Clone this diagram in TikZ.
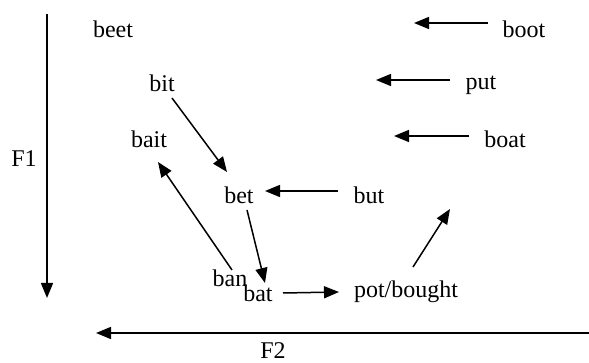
\documentclass[tikz,border=0pt]{standalone}
\usepackage{fontspec}
\setmainfont{Liberation Serif}
\usetikzlibrary{arrows.meta}
\begin{document}
\begin{tikzpicture}[x=1pt,y=-1pt,
  lbl/.style={inner sep=0pt,font=\fontsize{24}{27}\selectfont},
  arr/.style={line width=1.5pt,-{Triangle[length=15pt,width=12pt]}}]
\useasboundingbox (0,0) rectangle (589,363);
% labels
\node[lbl] (beet) at (113,29) {beet};
\node[lbl] (bit) at (162,83) {bit};
\node[lbl] (bait) at (149,139) {bait};
\node[lbl] (bet) at (239,195) {bet};
\node[lbl] (but) at (369,195) {but};
\node[lbl] (ban) at (230,278) {ban};
\node[lbl] (bat) at (258,293) {bat};
\node[lbl] (pot) at (406,292) {pot/bought};
\node[lbl] (boot) at (524,29) {boot};
\node[lbl] (put) at (481,85) {put};
\node[lbl] (boat) at (505,139) {boat};
\node[lbl] (F1) at (24,159) {F1};
\node[lbl] (F2) at (273,351) {F2};
% axis ends
\coordinate (f1top) at (47,14);
\coordinate (f1bot) at (47,298);
\coordinate (f2right) at (589,333);
\coordinate (f2left) at (96,333);
\draw[arr] (f1top) -- (f1bot);
\draw[arr] (f2right) -- (f2left);
% free-end arrows
\coordinate (bootTip) at (414,23);
\coordinate (putTip) at (376,80);
\coordinate (boatTip) at (394,136);
\coordinate (potTip) at (450,209);
\draw[arr] ([shift={(-36,-6)}]boot.center) -- (bootTip);
\draw[arr] ([shift={(-31,-5)}]put.center) -- (putTip);
\draw[arr] ([shift={(-36,-3)}]boat.center) -- (boatTip);
\draw[arr] ([shift={(7,-25)}]pot.center) -- (potTip);
% node-to-node arrows
\draw[arr] ([shift={(-31,-4)}]but.center) -- ([shift={(26,-4)}]bet.center);
\draw[arr] ([shift={(10,15)}]bit.center) -- ([shift={(-12,-23)}]bet.center);
\draw[arr] ([shift={(2,-8)}]ban.center) -- ([shift={(9,23)}]bait.center);
\draw[arr] ([shift={(8,15)}]bet.center) -- ([shift={(7,-10)}]bat.center);
\draw[arr] ([shift={(25,0)}]bat.center) -- ([shift={(-67,0)}]pot.center);
\end{tikzpicture}
\end{document}
